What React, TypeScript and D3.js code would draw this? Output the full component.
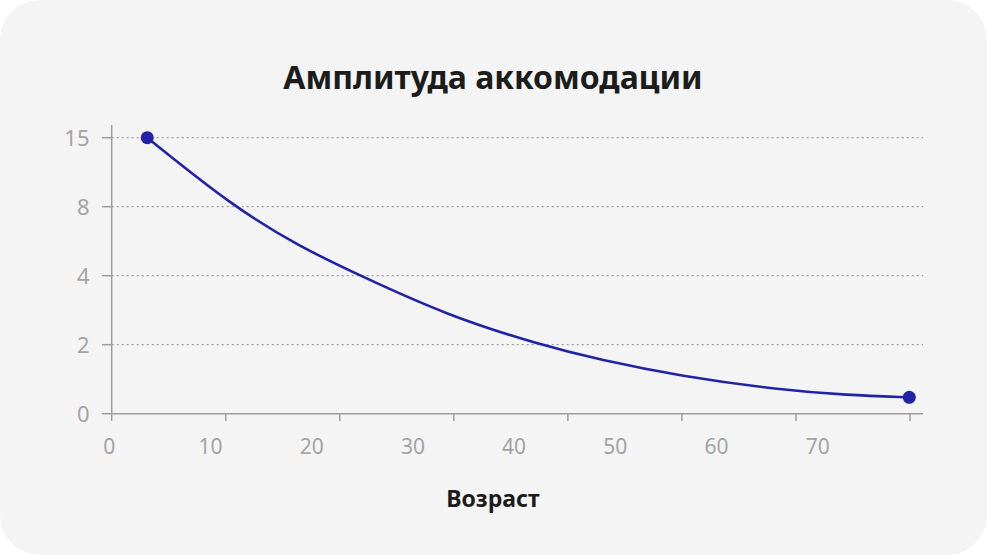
import React from "react";
import * as d3 from "d3";

const W = 987;
const H = 555;

// Data: age (years) vs accommodation amplitude (diopters)
const ages = [3.75, 12.25, 18.8, 24.8, 33.3, 42.5, 48.5, 56.4, 66.3, 72.9, 79.05];
const amplitude = [15, 8, 5.68, 4, 2.86, 2, 1.56, 1.09, 0.69, 0.54, 0.475];

const yTickValues = [0, 2, 4, 8, 15];
const xTickLabels = [0, 10, 20, 30, 40, 50, 60, 70];
const xTickMarks = [0, 1, 2, 3, 4, 5, 6, 7];

const title = "Амплитуда аккомодации";
const xTitle = "Возраст";

export default function App() {
  const yTop = 137.7;
  const yBottom = 413.7;
  const step = (yBottom - yTop) / (yTickValues.length - 1);
  const y = d3
    .scaleLinear()
    .domain(yTickValues)
    .range(yTickValues.map((_, i) => yBottom - i * step));
  const x = d3.scaleLinear().domain([0, 80]).range([109.3, 918.9]);
  const xMark = d3.scaleLinear().domain([0, 7]).range([111.7, 910]);

  const axisLeft = 111.7;
  const axisRight = 923;

  const pts: [number, number][] = ages.map((a, i) => [x(a), y(amplitude[i])]);
  const line = d3.line().curve(d3.curveBasis)(pts) || "";

  const axisColor = "#9e9e9e";
  const labelColor = "#a3a3a3";
  const lineColor = "#2222a8";

  return (
    <svg
      width={W}
      height={H}
      style={{ position: "absolute", left: 0, top: 0, background: "#ffffff" }}
    >
      <rect x={0} y={0} width={W} height={H} rx={40} ry={40} fill="#f4f4f4" />
      <text
        x={493}
        y={89}
        textAnchor="middle"
        fontFamily="'Noto Sans', sans-serif"
        fontWeight={700}
        fontSize={32}
        fill="#1c1c1c"
      >
        {title}
      </text>

      {/* gridlines */}
      {yTickValues.slice(1).map((v) => (
        <line
          key={"g" + v}
          x1={axisLeft}
          x2={axisRight}
          y1={y(v)}
          y2={y(v)}
          stroke={axisColor}
          strokeWidth={1.2}
          strokeDasharray="2,3"
        />
      ))}

      {/* y axis */}
      <line x1={axisLeft} x2={axisLeft} y1={125} y2={yBottom} stroke={axisColor} strokeWidth={1.5} />
      {yTickValues.map((v) => (
        <g key={"y" + v}>
          <line x1={102} x2={axisLeft} y1={y(v)} y2={y(v)} stroke={axisColor} strokeWidth={1.5} />
          <text
            x={89.5}
            y={y(v)}
            dy="0.36em"
            textAnchor="end"
            fontFamily="'Noto Sans', sans-serif"
            fontSize={22}
            fill={labelColor}
          >
            {v}
          </text>
        </g>
      ))}

      {/* x axis */}
      <line x1={axisLeft} x2={axisRight} y1={yBottom} y2={yBottom} stroke={axisColor} strokeWidth={1.5} />
      {xTickMarks.map((m) => (
        <line
          key={"m" + m}
          x1={xMark(m)}
          x2={xMark(m)}
          y1={yBottom}
          y2={421}
          stroke={axisColor}
          strokeWidth={1.5}
        />
      ))}
      {xTickLabels.map((v) => (
        <text
          key={"x" + v}
          x={x(v)}
          y={454}
          textAnchor="middle"
          fontFamily="'Noto Sans', sans-serif"
          fontSize={21}
          fill={labelColor}
        >
          {v}
        </text>
      ))}

      <text
        x={493}
        y={507}
        textAnchor="middle"
        fontFamily="'Noto Sans', sans-serif"
        fontWeight={700}
        fontSize={23}
        fill="#1c1c1c"
      >
        {xTitle}
      </text>

      {/* curve */}
      <path d={line} fill="none" stroke={lineColor} strokeWidth={2.6} />
      <circle cx={pts[0][0]} cy={pts[0][1]} r={6.5} fill={lineColor} />
      <circle cx={pts[pts.length - 1][0]} cy={pts[pts.length - 1][1]} r={6.5} fill={lineColor} />
    </svg>
  );
}
